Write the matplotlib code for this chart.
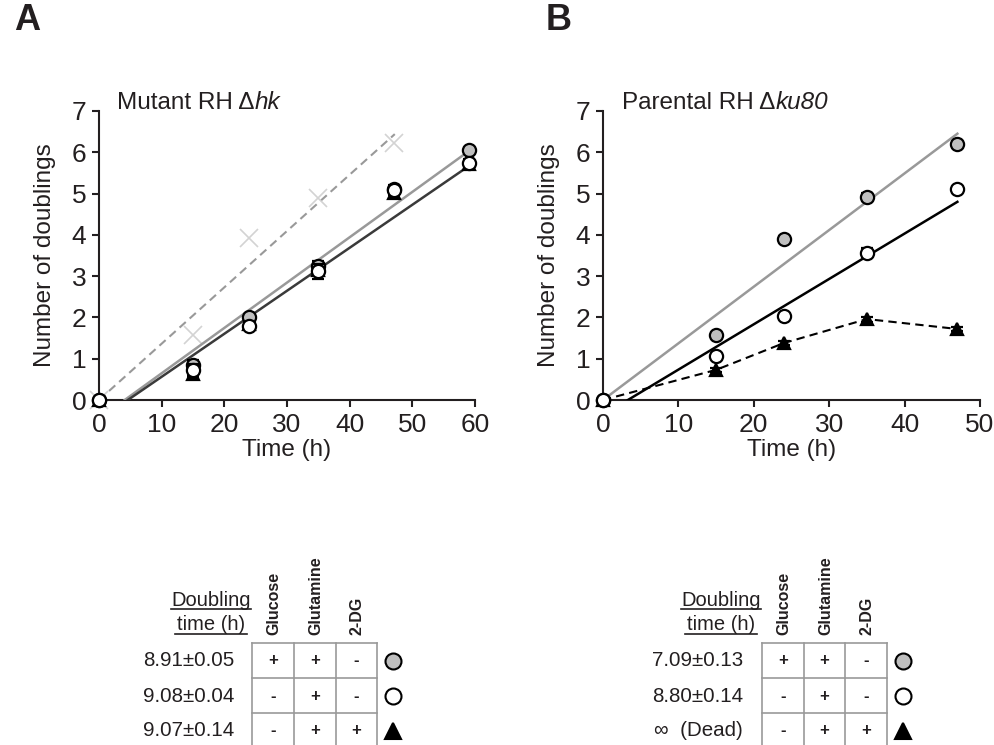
import matplotlib
matplotlib.use('Agg')
import matplotlib.pyplot as plt

plt.rcParams['font.family'] = ['Liberation Sans', 'DejaVu Sans']

# panel A: mutant RH dhk
time_a = [0, 15, 24, 35, 47, 59]
glc_a = [0, 0.85, 2.02, 3.25, 5.12, 6.05]
glc_a_err = [0, 0.12, 0.05, 0.12, 0.08, 0.05]
gln_a = [0, 0.72, 1.79, 3.12, 5.08, 5.75]
gln_a_err = [0, 0.14, 0.05, 0.18, 0.1, 0.08]
dg_a = [0, 0.62, 1.85, 3.15, 5.02, 5.72]
dg_a_err = [0, 0.08, 0.05, 0.1, 0.06, 0.05]
cross_t_a = [0, 15, 24, 35, 47]
cross_a = [0, 1.57, 3.92, 4.9, 6.22]
fit_cross_a = ([0, 47.2], [0, 6.44])
fit_glc_a = ([4.1, 59.2], [0, 6.05])
fit_gln_a = ([4.6, 60], [0, 5.77])

# panel B: parental RH dku80
time_b = [0, 15, 24, 35, 47]
glc_b = [0, 1.57, 3.90, 4.91, 6.20]
glc_b_err = [0, 0.05, 0.08, 0.1, 0.05]
gln_b = [0, 1.06, 2.03, 3.57, 5.12]
gln_b_err = [0, 0.05, 0.05, 0.1, 0.05]
dg_b = [0, 0.73, 1.38, 1.96, 1.72]
dg_b_err = [0, 0.05, 0.05, 0.06, 0.06]
fit_glc_b = ([0, 47], [0, 6.45])
fit_gln_b = ([3.3, 47], [0, 4.80])

# tables
conditions = ['Glucose', 'Glutamine', '2-DG']
rows_signs = [['+', '+', '-'], ['-', '+', '-'], ['-', '+', '+']]
dtime_a = ['8.91±0.05', '9.08±0.04', '9.07±0.14']
dtime_b = ['7.09±0.13', '8.80±0.14', '∞  (Dead)']

fig = plt.figure(figsize=(9.95, 7.45), dpi=100)
W, H = 995, 745
TXT = '#231f20'


def px_axes(x0, x1, y_top, y_bot):
    return fig.add_axes([x0 / W, 1 - y_bot / H, (x1 - x0) / W, (y_bot - y_top) / H])


def style(ax, xmax, xstep):
    ax.set_xlim(0, xmax)
    ax.set_ylim(0, 7)
    ax.set_xticks(range(0, xmax + 1, xstep))
    ax.set_yticks(range(0, 8))
    for s in ['top', 'right']:
        ax.spines[s].set_visible(False)
    for s in ['left', 'bottom']:
        ax.spines[s].set_linewidth(1.5)
        ax.spines[s].set_color(TXT)
    ax.tick_params(direction='out', length=5, width=1.5, labelsize=19, colors=TXT, pad=4)
    ax.set_xlabel('Time (h)', fontsize=17.5, color=TXT, labelpad=2)
    ax.set_ylabel('Number of doublings', fontsize=17.5, color=TXT, labelpad=11)


def points(ax, t, y, err, marker, face, ms, z):
    ax.errorbar(t, y, yerr=err, fmt=marker, ms=ms, mfc=face, mec='black', mew=1.6,
                ecolor='black', elinewidth=1.3, capsize=4, capthick=1.3, zorder=z, clip_on=False)


axA = px_axes(99, 475, 111, 400)
style(axA, 60, 10)
axA.plot(*fit_cross_a, color='#999999', lw=1.5, ls=(0, (4, 2.5)), zorder=2)
axA.plot(cross_t_a, cross_a, 'x', color='#d3d3d3', ms=13, mew=1.2, zorder=2, clip_on=False)
axA.plot(*fit_glc_a, color='#999999', lw=1.8, zorder=3)
axA.plot(*fit_gln_a, color='#3a3a3a', lw=1.8, zorder=3)
points(axA, time_a, dg_a, dg_a_err, '^', 'black', 9, 4)
points(axA, time_a, glc_a, glc_a_err, 'o', '#bfbfbf', 9.5, 5)
points(axA, time_a, gln_a, gln_a_err, 'o', 'white', 9.5, 6)

axB = px_axes(603, 980, 111, 400)
style(axB, 50, 10)
axB.plot(*fit_glc_b, color='#999999', lw=1.8, zorder=3)
axB.plot(*fit_gln_b, color='black', lw=1.8, zorder=3)
axB.plot(time_b, dg_b, color='black', lw=1.5, ls=(0, (4, 2.5)), zorder=3)
points(axB, time_b, dg_b, dg_b_err, '^', 'black', 9, 4)
points(axB, time_b, glc_b, glc_b_err, 'o', '#bfbfbf', 9.5, 5)
points(axB, time_b, gln_b, gln_b_err, 'o', 'white', 9.5, 6)

# titles: plain part followed by italic part
for x, plain, ital in [(117, 'Mutant RH Δ', 'hk'), (622, 'Parental RH Δ', 'ku80')]:
    t1 = fig.text(x / W, 1 - 103 / H, plain, fontsize=17.5, va='center', color=TXT)
    plt.annotate(ital, xy=(1, 0), xycoords=t1, va='bottom', ha='left',
                 fontsize=17.5, style='italic', color=TXT)

fig.text(14 / W, 1 - 21 / H, 'A', fontsize=26, fontweight='bold', va='center', color=TXT)
fig.text(546 / W, 1 - 21 / H, 'B', fontsize=26, fontweight='bold', va='center', color=TXT)

# overlay axes in pixel coordinates for the tables
ov = fig.add_axes([0, 0, 1, 1], zorder=-1)
ov.set_xlim(0, W)
ov.set_ylim(H, 0)
ov.axis('off')

row_y = [661, 696, 731]
syms = [('o', '#bfbfbf'), ('o', 'white'), ('^', 'black')]


def table(x_grid, label_cx, val_right, sym_x, values):
    ov.text(label_cx, 601, 'Doubling', fontsize=14.5, ha='center', va='center', color=TXT)
    ov.text(label_cx, 625, 'time (h)', fontsize=14.5, ha='center', va='center', color=TXT)
    ov.plot([label_cx - 40, label_cx + 40], [609, 609], color=TXT, lw=1.2)
    ov.plot([label_cx - 36, label_cx + 36], [634, 634], color=TXT, lw=1.2)
    for gx in x_grid:
        ov.plot([gx, gx], [643, 750], color='#999999', lw=1.2, clip_on=False)
    for gy in [643, 678, 713]:
        ov.plot([x_grid[0], x_grid[-1]], [gy, gy], color='#999999', lw=1.2)
    for j, name in enumerate(conditions):
        cx = (x_grid[j] + x_grid[j + 1]) / 2 + 1
        ov.text(cx, 635, name, rotation=90, fontsize=11.5, fontweight='bold',
                ha='center', va='bottom', color=TXT)
    for i, y in enumerate(row_y):
        ov.text(val_right, y, values[i], fontsize=14.8, ha='right', va='center', color=TXT)
        for j, s in enumerate(rows_signs[i]):
            cx = (x_grid[j] + x_grid[j + 1]) / 2
            ov.text(cx, y, s, fontsize=12, fontweight='bold', ha='center', va='center', color=TXT)
        m, f = syms[i]
        ov.plot(sym_x, y, marker=m, ms=11.5 if m == 'o' else 12, mfc=f, mec='black', mew=1.5)


table([252, 294, 336, 377], 211, 234, 393, dtime_a)
table([762, 804, 845, 887], 721, 743, 903, dtime_b)

fig.savefig('out.png', dpi=100)
